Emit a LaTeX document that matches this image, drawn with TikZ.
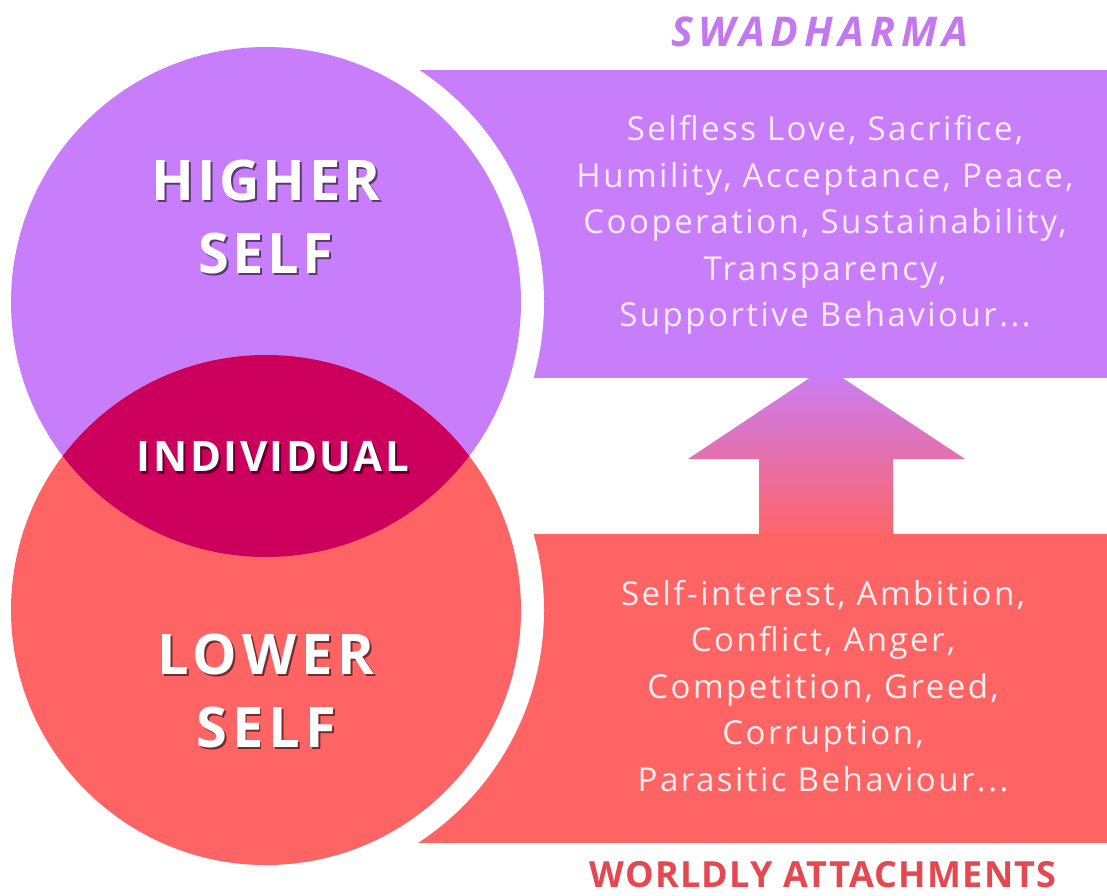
\documentclass[tikz,border=0pt]{standalone}
\usepackage{fontspec}
\setmainfont{Open Sans}
\newfontfamily\selffont[LetterSpace=6]{Open Sans}
\newfontfamily\wideselffont[LetterSpace=9]{Open Sans}
\newfontfamily\traitfont[LetterSpace=7.5]{Open Sans}
\newfontfamily\titlefont[LetterSpace=14]{Open Sans}
\newfontfamily\worldfont[LetterSpace=3.5]{Open Sans}
\definecolor{higherc}{RGB}{200,126,250}
\definecolor{lowerc}{RGB}{255,100,100}
\definecolor{indivc}{RGB}{204,0,92}
\definecolor{swadc}{RGB}{196,120,240}
\definecolor{worldc}{RGB}{228,72,80}
\definecolor{uptext}{RGB}{250,234,255}
\definecolor{lowtext}{RGB}{255,238,238}
\newcommand\shadowed[2]{\makebox[0pt][l]{\raisebox{-2.5pt}{\hspace{2pt}\textcolor{#1}{#2}}}#2}
\tikzset{
  selflabel/.style={font=\selffont\bfseries\fontsize{56}{73}\selectfont, text=white, align=center},
  traits/.style={font=\traitfont\fontsize{33}{46.5}\selectfont, align=center},
  ring/.style={fill=white},
}
\begin{document}
\begin{tikzpicture}[x=1pt, y=-1pt]
  \useasboundingbox[fill=white] (0,0) rectangle (1107,895);
  % arrow from lower box up to upper box
  \shade[top color=higherc, bottom color=lowerc] (826,367) -- (965,459) -- (893,459) -- (893,540)
    -- (759,540) -- (759,459) -- (688,459) -- cycle;
  \fill[higherc] (418,70) rectangle (1107,378);
  \fill[lowerc] (418,534) rectangle (1107,843);
  % circles with white rims
  \fill[ring] (266,302) circle (278pt);
  \fill[ring] (266,610) circle (278pt);
  \fill[higherc] (266,302) circle (255pt);
  \fill[lowerc] (266,610) circle (255pt);
  \begin{scope}
    \clip (266,302) circle (255pt);
    \fill[indivc] (266,610) circle (255pt);
  \end{scope}
  \node[selflabel] (higher) at (266,218) {\shadowed{higherc!45!black}{HIGHER}\\\shadowed{higherc!45!black}{SELF}};
  \node[selflabel, font=\wideselffont\bfseries\fontsize{56}{73}\selectfont] (lower) at (266,692) {\shadowed{lowerc!45!black}{LOWER}\\\shadowed{lowerc!45!black}{SELF}};
  \node[selflabel, font=\selffont\bfseries\fontsize{42}{50}\selectfont] (indiv) at (273,458) {\shadowed{indivc!45!black}{INDIVIDUAL}};
  \node[traits, text=uptext] (virtues) at (825,225) {Selfless Love, Sacrifice,\\Humility, Acceptance, Peace,\\Cooperation, Sustainability,\\Transparency,\\Supportive Behaviour...};
  \node[traits, text=lowtext] (vices) at (823,686) {Self-interest, Ambition,\\Conflict, Anger,\\Competition, Greed,\\Corruption,\\Parasitic Behaviour...};
  \node[anchor=base, inner sep=0pt, text=swadc, font=\titlefont\bfseries\itshape\fontsize{41}{48}\selectfont] (swadharma) at (820,46) {SWADHARMA};
  \node[anchor=base, inner sep=0pt, text=worldc, font=\worldfont\bfseries\fontsize{36}{44}\selectfont] (worldly) at (823,887) {WORLDLY ATTACHMENTS};
\end{tikzpicture}
\end{document}
